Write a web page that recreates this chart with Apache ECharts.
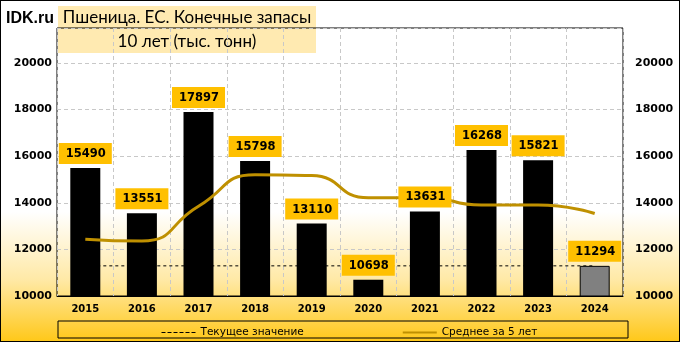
<!DOCTYPE html>
<html><head><meta charset="utf-8">
<script src="https://cdn.jsdelivr.net/npm/echarts@6/dist/echarts.min.js"></script>
<style>
html,body{margin:0;padding:0;}
#c{width:680px;height:342px;box-sizing:border-box;border:1px solid #000;
background:linear-gradient(to bottom,#ffffff 0%,#ffffff 62%,#ffe9a6 82%,#ffc81a 100%);}
</style></head><body>
<div id="c"></div>
<script>
const years = ['2015','2016','2017','2018','2019','2020','2021','2022','2023','2024'];
const stocks = [15490,13551,17897,15798,13110,10698,13631,16268,15821,11294];
const current = [11294,11294,11294,11294,11294,11294,11294,11294,11294,11294];
const avg5 = [12440,12360,13850,15200,15169,14211,14227,13901,13906,13542];
const titleLines = ['Пшеница. ЕС. Конечные запасы','10 лет (тыс. тонн)'];
const legendNames = ['Текущее значение','Среднее за 5 лет'];

const chart = echarts.init(document.getElementById('c'), null, {renderer:'canvas'});
const axisFont = {fontFamily:'DejaVu Sans',fontWeight:'bold',fontSize:11,color:'#000'};
const yAx = (pos, margin) => ({
  type:'value', position:pos, min:10000, max:21500, interval:2000,
  axisLine:{show:false}, axisTick:{show:false},
  splitLine:{show:pos==='left', lineStyle:{color:'#c8c8c8',type:[4,3]}},
  axisLabel:Object.assign({margin:margin, formatter:v=> v>20000?'':String(v)}, axisFont)
});
chart.setOption({
  animation:false,
  grid:{left:56,right:56,top:27,bottom:45,show:true,borderColor:'#000',borderWidth:1,backgroundColor:'transparent'},
  graphic:[
    {type:'rect',shape:{x:57,y:5,width:258,height:47},style:{fill:'rgba(255,213,100,0.5)'},z:-10,silent:true},
    {type:'text',left:5,top:10,style:{text:'IDK.ru',font:'bold 16px "Liberation Sans"',fill:'#000'}},
    {type:'text',x:186,y:17,style:{text:titleLines[0],font:'17px Lato',fill:'#000',align:'center',verticalAlign:'middle'}},
    {type:'text',x:186,y:41,style:{text:titleLines[1],font:'17px Lato',fill:'#000',align:'center',verticalAlign:'middle'}},
    {type:'rect',shape:{x:57,y:320,width:570,height:17},style:{fill:'none',stroke:'#000',lineWidth:1}}
  ],
  legend:{
    left:155, top:321, itemGap:98, itemWidth:34, itemHeight:4,
    itemStyle:{opacity:0},
    textStyle:{fontFamily:'DejaVu Sans',fontSize:10.5,color:'#000'},
    data:[{name:legendNames[0],lineStyle:{width:1,type:[4,2]}},{name:legendNames[1]}]
  },
  xAxis:{type:'category',data:years,
    axisLine:{lineStyle:{color:'#000'}}, axisTick:{show:false},
    splitLine:{show:true,lineStyle:{color:'#c8c8c8',type:[4,3]}},
    axisLabel:Object.assign({margin:8}, axisFont, {fontSize:10})
  },
  yAxis:[yAx('left',5), yAx('right',12)],
  series:[
    {type:'bar', name:'stocks', barWidth:'53%',
     data:stocks.map((v,i)=>({value:v,itemStyle: i===stocks.length-1?{color:'#808080',borderColor:'#000',borderWidth:1}:{color:'#000'}})),
     z:2},
    {type:'line', name:legendNames[0], data:current, symbol:'none',
     lineStyle:{color:'#000',width:1,type:[3,3]}, itemStyle:{color:'#000'}, z:1},
    {type:'line', name:legendNames[1], data:avg5, symbol:'none', smooth:0.55,
     lineStyle:{color:'#BF9000',width:3}, itemStyle:{color:'#BF9000'}, z:3},
    {type:'bar', name:'labels', barWidth:'53%', barGap:'-100%', data:stocks,
     itemStyle:{color:'rgba(0,0,0,0)'}, silent:true, z:5,
     label:{show:true,position:'top',distance:4,backgroundColor:'#FFC000',padding:[5,6,4,7],
       fontFamily:'DejaVu Sans',fontWeight:'bold',fontSize:11.5,color:'#000'}}
  ]
});
</script></body></html>
